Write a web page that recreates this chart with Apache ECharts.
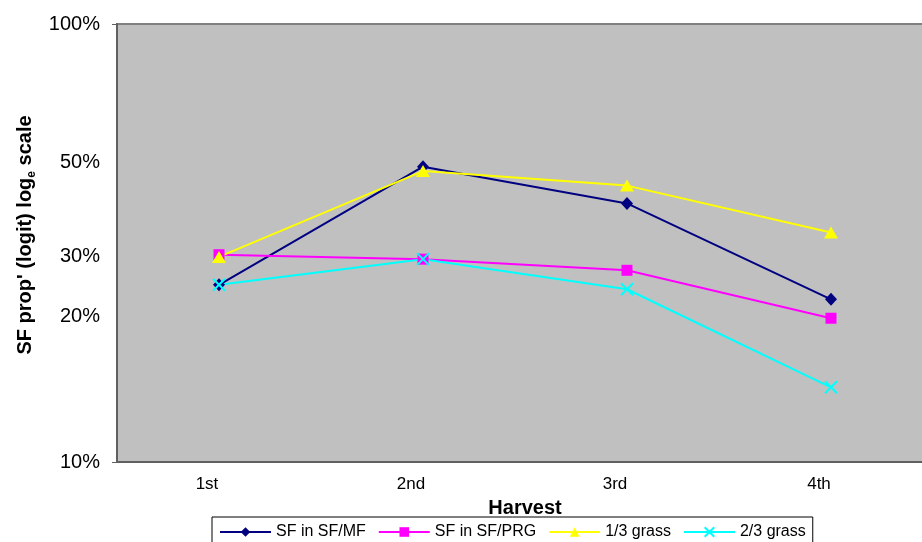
<!DOCTYPE html>
<html>
<head>
<meta charset="utf-8">
<script src="https://cdn.jsdelivr.net/npm/echarts@6/dist/echarts.min.js"></script>
<style>
  html, body { margin: 0; padding: 0; background: #ffffff; }
  #chart { width: 922px; height: 542px; }
</style>
</head>
<body>
<div id="chart"></div>
<script>
// Harvest categories
const categories = ['1st', '2nd', '3rd', '4th'];

// Series values, SF proportion on the logit scale
const sfInSfMf  = [-1.10, -0.04, -0.37, -1.23];
const sfInSfPrg = [-0.83, -0.87, -0.97, -1.40];
const grassThird = [-0.85, -0.08, -0.21, -0.63];
const grassTwoThirds = [-1.10, -0.87, -1.14, -2.02];

// Y axis labels and where they sit on the logit axis
const yTickLabels = ['10%', '20%', '30%', '50%', '100%'];
const yTickPositions = [-2.69, -1.386, -0.847, 0, 1.24];

const yMin = yTickPositions[0];
const yMax = yTickPositions[yTickPositions.length - 1];

const chart = echarts.init(document.getElementById('chart'), null, { renderer: 'canvas' });

function labelFor(v) {
  let best = 0, bestD = Infinity;
  yTickPositions.forEach((p, i) => {
    const d = Math.abs(p - v);
    if (d < bestD) { bestD = d; best = i; }
  });
  return yTickLabels[best];
}

const crossPath = 'path://M0,0L12,12M12,0L0,12';

chart.setOption({
  animation: false,
  backgroundColor: '#ffffff',
  grid: {
    left: 117, top: 24, width: 816, height: 438,
    outerBoundsMode: 'none',
    containLabel: false,
    show: true,
    backgroundColor: '#C0C0C0',
    borderColor: '#808080',
    borderWidth: 2
  },
  xAxis: {
    type: 'category',
    data: categories,
    boundaryGap: true,
    axisLine: { show: true, onZero: false, lineStyle: { color: '#606060', width: 2 } },
    axisTick: { show: false },
    splitLine: { show: false },
    axisLabel: {
      fontFamily: 'Liberation Sans, Arial, sans-serif',
      fontSize: 17,
      color: '#000',
      margin: 14,
      padding: [0, 24, 0, 0]
    },
    name: 'Harvest',
    nameLocation: 'middle',
    nameGap: 36,
    nameTextStyle: {
      fontFamily: 'Liberation Sans, Arial, sans-serif',
      fontSize: 20,
      fontWeight: 'bold',
      color: '#000'
    }
  },
  yAxis: {
    type: 'value',
    min: yMin,
    max: yMax,
    axisLine: { show: true, lineStyle: { color: '#606060', width: 2 } },
    splitLine: { show: false },
    axisTick: {
      show: true,
      length: 5,
      customValues: [yMin, yMax],
      lineStyle: { color: '#606060', width: 1 }
    },
    axisLabel: {
      customValues: yTickPositions,
      formatter: (v) => labelFor(v),
      fontFamily: 'Liberation Sans, Arial, sans-serif',
      fontSize: 20,
      color: '#000',
      margin: 17
    },
    name: "{a|SF prop' (logit) log}{b|e}{a| scale}",
    nameLocation: 'middle',
    nameGap: 73,
    nameRotate: 90,
    nameTextStyle: {
      color: '#000',
      padding: [0, 0, 0, 16],
      rich: {
        a: {
          fontFamily: 'Liberation Sans, Arial, sans-serif',
          fontSize: 20,
          fontWeight: 'bold',
          color: '#000',
          lineHeight: 24
        },
        b: {
          fontFamily: 'Liberation Sans, Arial, sans-serif',
          fontSize: 12,
          fontWeight: 'bold',
          color: '#000',
          lineHeight: 12,
          verticalAlign: 'bottom'
        }
      }
    }
  },
  legend: {
    left: 212,
    top: 517,
    orient: 'horizontal',
    padding: [7, 7, 30, 7],
    borderColor: '#000',
    borderWidth: 1,
    backgroundColor: '#ffffff',
    itemWidth: 51,
    itemHeight: 12,
    itemGap: 12,
    textStyle: {
      fontFamily: 'Liberation Sans, Arial, sans-serif',
      fontSize: 16,
      color: '#000'
    },
    data: ['SF in SF/MF', 'SF in SF/PRG', '1/3 grass', '2/3 grass']
  },
  series: [
    {
      name: 'SF in SF/MF',
      type: 'line',
      data: sfInSfMf,
      symbol: 'diamond',
      symbolSize: [12, 13],
      lineStyle: { color: '#000080', width: 2 },
      itemStyle: { color: '#000080' }
    },
    {
      name: 'SF in SF/PRG',
      type: 'line',
      data: sfInSfPrg,
      symbol: 'rect',
      symbolSize: 11,
      lineStyle: { color: '#FF00FF', width: 2 },
      itemStyle: { color: '#FF00FF' }
    },
    {
      name: '1/3 grass',
      type: 'line',
      data: grassThird,
      symbol: 'triangle',
      symbolSize: [14, 12],
      lineStyle: { color: '#FFFF00', width: 2 },
      itemStyle: { color: '#FFFF00' }
    },
    {
      name: '2/3 grass',
      type: 'line',
      data: grassTwoThirds,
      symbol: crossPath,
      symbolSize: 12,
      lineStyle: { color: '#00FFFF', width: 2 },
      itemStyle: { color: '#00FFFF', borderColor: '#00FFFF', borderWidth: 2 }
    }
  ]
});
</script>
</body>
</html>
